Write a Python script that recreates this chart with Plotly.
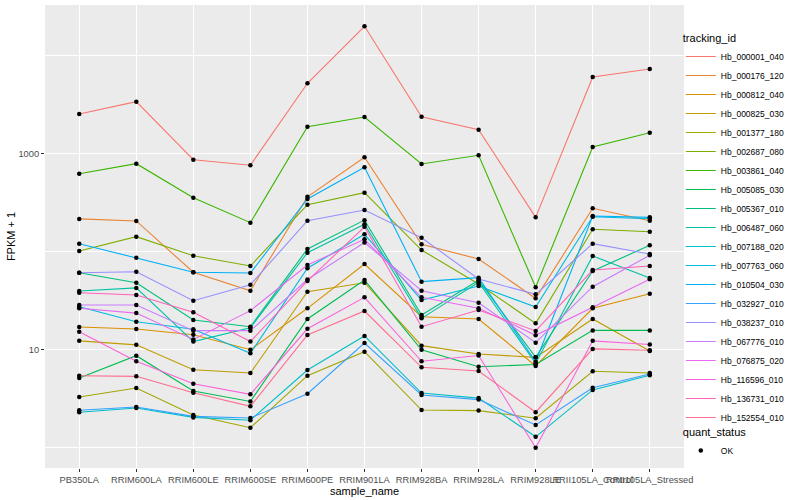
import plotly.graph_objects as go

samples = ["PB350LA", "RRIM600LA", "RRIM600LE", "RRIM600SE", "RRIM600PE", "RRIM901LA",
           "RRIM928BA", "RRIM928LA", "RRIM928LE", "RRII105LA_Control", "RRII105LA_Stressed"]

# FPKM + 1 values, one list per tracking_id (order follows samples)
Hb_000001_040 = [2520, 3363, 860, 755, 5180, 19770, 2363, 1742, 222, 6005, 7244]
Hb_000176_120 = [214, 204, 61.1, 39.6, 360, 910, 117.9, 83.4, 33.1, 274.6, 205]
Hb_000812_040 = [16.9, 16.1, 14.1, 9.9, 26.2, 74.2, 21.5, 20.4, 6.76, 26.2, 36.9]
Hb_000825_030 = [12.2, 11.1, 6.19, 5.73, 38.7, 47.8, 10.9, 8.96, 8.28, 20.4, 9.6]
Hb_001377_180 = [3.26, 4.03, 2.14, 1.585, 5.38, 9.46, 2.40, 2.37, 1.98, 5.97, 5.73]
Hb_002687_080 = [100.7, 141, 90.2, 70.8, 299, 396, 103, 46.4, 18.4, 167.7, 158.5]
Hb_003861_040 = [619, 783, 352, 196, 1868, 2346, 778, 954, 42.9, 1159, 1622]
Hb_005085_030 = [5.09, 8.61, 3.75, 2.94, 20.4, 50.9, 9.9, 6.64, 7.0, 15.6, 15.6]
Hb_005367_010 = [60.5, 47.8, 19.9, 17.0, 105.6, 208, 22.4, 50.6, 8.28, 63, 115]
Hb_006487_060 = [39.4, 42.3, 12.0, 16.6, 96.8, 188.6, 20.7, 48.3, 7.2, 89.5, 53.4]
Hb_007188_020 = [2.28, 2.52, 2.02, 1.89, 6.15, 13.7, 3.58, 3.18, 1.28, 3.85, 5.43]
Hb_007763_060 = [27.2, 19.1, 16.0, 9.1, 67.1, 149, 31.8, 44.3, 27.0, 225.4, 215]
Hb_010504_030 = [119.6, 86.0, 61.1, 60.0, 342, 720, 49.0, 53.8, 7.47, 229, 222]
Hb_032927_010 = [2.39, 2.58, 2.07, 1.99, 3.52, 11.6, 3.42, 3.07, 1.69, 4.06, 5.60]
Hb_038237_010 = [60.5, 61.9, 31.3, 45.6, 205, 264, 137.7, 52.1, 36.4, 119.6, 93.8]
Hb_067776_010 = [28.3, 28.3, 15.5, 15.5, 51.5, 123, 39.6, 29.9, 11.7, 43.5, 91]
Hb_076875_020 = [26.2, 23.4, 12.6, 24.8, 72.5, 132.6, 33.9, 26.2, 13.9, 26.8, 51.8]
Hb_116596_010 = [15.1, 7.55, 4.46, 3.47, 16.2, 33.9, 7.55, 8.65, 0.99, 12.2, 11.2]
Hb_136731_010 = [37.8, 35.8, 23.9, 12.0, 49.8, 178, 17.0, 25.2, 15.4, 64.4, 70.8]
Hb_152554_010 = [5.38, 5.30, 3.61, 2.62, 14.0, 24.6, 6.55, 6.01, 2.28, 10.1, 9.77]

tracking_ids = ["Hb_000001_040", "Hb_000176_120", "Hb_000812_040", "Hb_000825_030",
                "Hb_001377_180", "Hb_002687_080", "Hb_003861_040", "Hb_005085_030",
                "Hb_005367_010", "Hb_006487_060", "Hb_007188_020", "Hb_007763_060",
                "Hb_010504_030", "Hb_032927_010", "Hb_038237_010", "Hb_067776_010",
                "Hb_076875_020", "Hb_116596_010", "Hb_136731_010", "Hb_152554_010"]
series = [Hb_000001_040, Hb_000176_120, Hb_000812_040, Hb_000825_030, Hb_001377_180,
          Hb_002687_080, Hb_003861_040, Hb_005085_030, Hb_005367_010, Hb_006487_060,
          Hb_007188_020, Hb_007763_060, Hb_010504_030, Hb_032927_010, Hb_038237_010,
          Hb_067776_010, Hb_076875_020, Hb_116596_010, Hb_136731_010, Hb_152554_010]

colors = ["#F8766D", "#EA8331", "#D89000", "#C09B00", "#A3A500", "#7CAE00", "#39B600",
          "#00BB4E", "#00BF7D", "#00C1A3", "#00BFC4", "#00BAE0", "#00B0F6", "#35A2FF",
          "#9590FF", "#C77CFF", "#E76BF3", "#FA62DB", "#FF62BC", "#FF6C91"]

fig = go.Figure()
for name, vals, col in zip(tracking_ids, series, colors):
    fig.add_trace(go.Scatter(x=samples, y=vals, mode="lines", name=name,
                             line=dict(color=col, width=1.1), legend="legend"))

all_x = [s for vals in series for s in samples]
all_y = [v for vals in series for v in vals]
fig.add_trace(go.Scatter(x=all_x, y=all_y, mode="markers", name="OK",
                         marker=dict(color="black", size=4.5, symbol="circle"),
                         legend="legend2"))

font = "Liberation Sans, Arial, Helvetica, sans-serif"
fig.update_layout(
    width=800, height=500,
    margin=dict(l=45, r=116, t=5, b=32, autoexpand=False),
    paper_bgcolor="white", plot_bgcolor="#EBEBEB",
    font=dict(family=font, size=9, color="#000000"),
    showlegend=True,
    legend=dict(title=dict(text="tracking_id", font=dict(size=11)),
                x=0.995, xanchor="left", y=0.951, yanchor="top",
                font=dict(size=8.5), bgcolor="rgba(0,0,0,0)", itemwidth=30,
                tracegroupgap=0),
    legend2=dict(title=dict(text="quant_status", font=dict(size=11)),
                 x=0.995, xanchor="left", y=0.10, yanchor="top",
                 font=dict(size=8.5), bgcolor="rgba(0,0,0,0)", itemwidth=30),
)
fig.update_xaxes(
    type="category", categoryorder="array", categoryarray=samples,
    range=[-0.6, 10.6], showgrid=True, gridcolor="white", gridwidth=1.1,
    ticks="outside", ticklen=3, tickcolor="#333333", tickangle=0,
    tickfont=dict(size=9.3, color="#4D4D4D"), zeroline=False, showline=False,
    title=dict(text="sample_name", font=dict(size=11), standoff=0),
)
fig.update_yaxes(
    type="log", range=[-0.211, 4.513],
    tickvals=[10, 1000], ticktext=["10", "1000"],
    showgrid=True, gridcolor="white", gridwidth=1.1,
    minor=dict(tickvals=[1, 100, 10000], showgrid=True, gridcolor="white", gridwidth=0.5, ticks=""),
    ticks="outside", ticklen=3, tickcolor="#333333",
    tickfont=dict(size=9.3, color="#4D4D4D"), zeroline=False, showline=False,
    title=dict(text="FPKM + 1", font=dict(size=11), standoff=0),
)

fig.write_html("out.html", config={"displayModeBar": False},
               post_script="document.body.style.margin='0px';")
